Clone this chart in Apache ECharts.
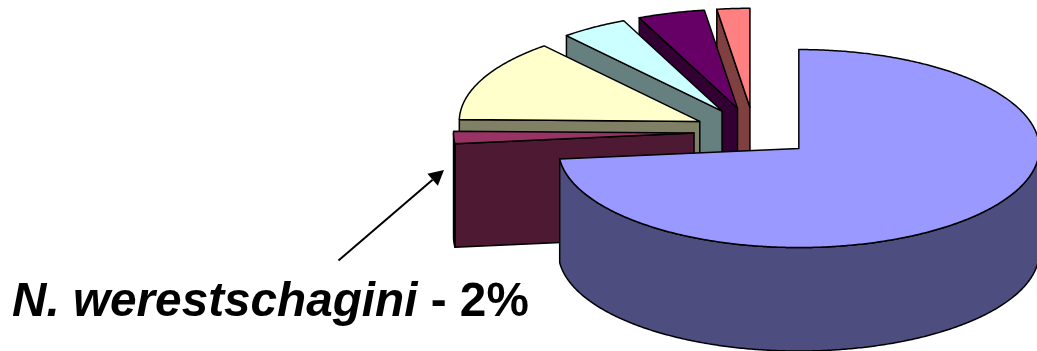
<!DOCTYPE html>
<html>
<head>
<meta charset="utf-8">
<style>html,body{margin:0;padding:0;background:#fff}#chart{width:1037px;height:351px}</style>
<script src="https://cdn.jsdelivr.net/npm/echarts@6/dist/echarts.min.js"></script>
</head>
<body>
<div id="chart"></div>
<script>
// Percentage shares, clockwise from twelve o'clock.
const sliceValues = [73.3, 2, 13.5, 4.5, 4.5, 2.2];
const topColors  = ['#9999FF', '#993366', '#FFFFCC', '#CCFFFF', '#660066', '#FF8080'];
const sideColors = ['#4D4D80', '#4D1933', '#808066', '#668080', '#330033', '#804040'];
const calloutName = 'N. werestschagini';
const calloutValue = ' - 2%';

// Oblique pie projection.
const pie = { cx: 754.1, cy: 132, rx: 240.5, ry: 99, depth: 103.5, explode: 0.25 };
const arrow = { from: [338.5, 260.5], to: [444, 170], headLength: 15, headWidth: 16 };

const total = sliceValues.reduce((a, b) => a + b, 0);
let running = 0;
const sliceRows = sliceValues.map((v, i) => {
  const start = running / total * 360;
  running += v;
  return [i, start, v / total * 360];
});

const rad = d => d * Math.PI / 180;

function renderSlice(params, api) {
  const i = api.value(0), t0 = api.value(1), sweep = api.value(2), t1 = t0 + sweep;
  const mid = rad(t0 + sweep / 2);
  const ax = pie.cx + pie.explode * pie.rx * Math.sin(mid);
  const ay = pie.cy - pie.explode * pie.ry * Math.cos(mid);
  const rim = t => [ax + pie.rx * Math.sin(rad(t)), ay - pie.ry * Math.cos(rad(t))];
  const drop = p => [p[0], p[1] + pie.depth];
  const arc = (a, b) => {
    const n = Math.max(2, Math.ceil((b - a) / 0.5));
    const pts = [];
    for (let k = 0; k <= n; k++) pts.push(rim(a + (b - a) * k / n));
    return pts;
  };
  const lineStyle = { stroke: '#000', lineWidth: 1.5, lineJoin: 'round' };
  const face = (pts, fill) => ({
    type: 'polygon', shape: { points: pts }, style: Object.assign({ fill }, lineStyle)
  });
  const children = [];
  const apex = [ax, ay];
  const s0 = Math.sin(rad(t0)), s1 = Math.sin(rad(t1));
  // Radial walls that face the viewer.
  if (s0 < -1e-6) children.push(face([rim(t0), apex, drop(apex), drop(rim(t0))], sideColors[i]));
  if (s1 > 1e-6) children.push(face([rim(t1), apex, drop(apex), drop(rim(t1))], sideColors[i]));
  // Outer wall over the front half of the ellipse.
  const a = Math.max(t0, 90), b = Math.min(t1, 270);
  if (b > a) {
    const top = arc(a, b);
    children.push(face(top.concat(top.slice().reverse().map(drop)), sideColors[i]));
  }
  children.push(face([apex].concat(arc(t0, t1)), topColors[i]));
  return { type: 'group', children };
}

// Head of the callout arrow, derived from its shaft.
const ang = Math.atan2(arrow.to[1] - arrow.from[1], arrow.to[0] - arrow.from[0]);
const bx = arrow.to[0] - arrow.headLength * Math.cos(ang);
const by = arrow.to[1] - arrow.headLength * Math.sin(ang);
const nx = -Math.sin(ang) * arrow.headWidth / 2, ny = Math.cos(ang) * arrow.headWidth / 2;

const chart = echarts.init(document.getElementById('chart'), null, { renderer: 'canvas' });
chart.setOption({
  animation: false,
  backgroundColor: '#fff',
  series: [{
    type: 'custom',
    coordinateSystem: 'none',
    silent: true,
    // Painted from the last slice back to the first, nearest to the viewer on top.
    data: sliceRows.slice().reverse(),
    renderItem: renderSlice
  }],
  graphic: [
    { type: 'line', z: 10, shape: { x1: arrow.from[0], y1: arrow.from[1], x2: bx, y2: by },
      style: { stroke: '#000', lineWidth: 2 } },
    { type: 'polygon', z: 10, shape: { points: [arrow.to, [bx + nx, by + ny], [bx - nx, by - ny]] },
      style: { fill: '#000' } },
    { type: 'text', z: 10, x: 12, y: 279,
      style: {
        text: '{a|' + calloutName + '}{b|' + calloutValue + '}',
        rich: {
          a: { fontFamily: 'Liberation Sans', fontWeight: 'bold', fontStyle: 'italic', fontSize: 47.7, fill: '#000' },
          b: { fontFamily: 'Liberation Sans', fontWeight: 'bold', fontSize: 47.7, fill: '#000' }
        }
      } }
  ]
});
</script>
</body>
</html>
